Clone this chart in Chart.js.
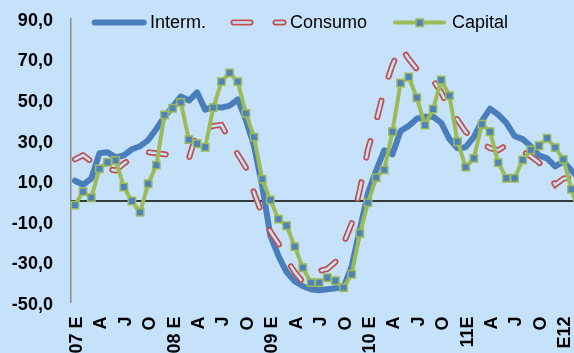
<!DOCTYPE html>
<html>
<head>
<meta charset="utf-8">
<script src="https://cdn.jsdelivr.net/npm/chart.js@4/dist/chart.umd.min.js"></script>
<style>
  html, body { margin: 0; padding: 0; background: #C6E2FA; overflow: hidden; }
  #caja { width: 600px; height: 353px; }
</style>
</head>
<body>
<div id="caja"><canvas id="graficoBienes" width="600" height="353"></canvas></div>
<script>
// meses de enero 2007 a marzo 2012
const anios = ['07', '08', '09', '10', '11', '12'];
const nombresMes = ['ene', 'feb', 'mar', 'abr', 'may', 'jun', 'jul', 'ago', 'sep', 'oct', 'nov', 'dic'];
const meses = [];
anios.forEach(a => nombresMes.forEach(m => meses.push(m + '-' + a)));
meses.length = 63;

// un rotulo cada tres meses
const rotulos = ['07 E', 'A', 'J', 'O', '08 E', 'A', 'J', 'O', '09 E', 'A', 'J', 'O',
                 '10 E', 'A', 'J', 'O', '11E', 'A', 'J', 'O', 'E12'];

const interm = [10.0, 8.0, 11.0, 23.5, 24.0, 21.5, 22.5, 25.5, 27.0, 30.0, 35.5, 41.5,
                46.5, 51.5, 49.5, 53.5, 45.0, 46.5, 46.0, 47.0, 50.0, 40.0, 27.0, 7.5,
                -17.0, -27.0, -35.0, -39.5, -42.0, -43.5, -44.0, -43.5, -43.0, -42.5, -32.0, -14.0,
                4.0, 15.0, 25.0, 23.0, 34.5, 37.0, 40.5, 41.5, 41.5, 38.5, 30.5, 26.0,
                26.5, 31.5, 39.5, 45.5, 42.5, 38.5, 32.0, 30.5, 27.0, 22.5, 21.0, 17.0,
                19.5, 15.0, 11.0];

const consumo = [20.5, 22.5, 19.5, 17.5, 16.0, 15.0, 18.5, 21.0, 23.0, 24.0, 23.5, 23.0,
                 22.5, 21.5, 21.0, 34.0, 35.5, 37.0, 37.5, 30.0, 23.0, 16.5, 4.0, -6.5,
                 -15.0, -21.0, -29.0, -35.0, -40.0, -37.0, -34.5, -33.5, -30.0, -21.0, -11.0, 5.5,
                 25.5, 39.0, 55.0, 67.0, 76.0, 70.0, 65.0, 61.0, 59.5, 53.5, 45.0, 40.0,
                 34.0, 31.0, 28.5, 26.0, 25.0, 27.5, 26.0, 24.5, 22.0, 19.0, 14.5, 8.0,
                 11.0, 12.0, 12.5];

const capital = [-2.0, 4.6, 1.6, 15.8, 19.1, 20.0, 6.9, 0.0, -5.6, 8.5, 17.7, 42.4,
                 45.7, 48.6, 30.2, 28.2, 26.5, 46.0, 58.8, 63.1, 58.8, 43.2, 31.5, 10.8,
                 0.5, -8.9, -12.2, -22.5, -32.9, -40.2, -40.2, -37.8, -39.3, -42.7, -36.1, -15.9,
                 -0.8, 11.5, 15.3, 34.1, 58.1, 61.1, 50.9, 37.4, 45.3, 59.6, 51.9, 29.2,
                 16.7, 21.0, 37.8, 34.1, 18.9, 11.2, 11.2, 20.2, 25.1, 27.2, 30.9, 26.3,
                 20.5, 5.8, -7.0];

const fondo = '#C6E2FA';
const azul = '#4A7EBB';
const rojo = '#C0504D';
const verde = '#9BBB59';
const azulMarca = '#4F81BD';
const trazos = [17, 25];
const fuente = "'Liberation Sans', Arial, sans-serif";

// linea negra del cero, bajo las series
const lineaCero = {
    id: 'lineaCero',
    beforeDatasetsDraw(chart) {
        const { ctx, chartArea, scales } = chart;
        const y = scales.y.getPixelForValue(0);
        ctx.save();
        ctx.strokeStyle = '#000';
        ctx.lineWidth = 1.5;
        ctx.beginPath();
        ctx.moveTo(chartArea.left, y);
        ctx.lineTo(chartArea.right, y);
        ctx.stroke();
        ctx.restore();
    }
};

// leyenda dibujada a mano para imitar el trazo doble de Consumo
const leyenda = {
    id: 'leyenda',
    afterDraw(chart) {
        const ctx = chart.ctx;
        const y = 22.5;
        ctx.save();
        ctx.lineCap = 'round';

        ctx.strokeStyle = azul;
        ctx.lineWidth = 6;
        ctx.beginPath(); ctx.moveTo(94.7, y); ctx.lineTo(143.7, y); ctx.stroke();

        ctx.setLineDash(trazos);
        ctx.strokeStyle = rojo;
        ctx.lineWidth = 6;
        ctx.beginPath(); ctx.moveTo(233.5, y); ctx.lineTo(283.5, y); ctx.stroke();
        ctx.strokeStyle = fondo;
        ctx.lineWidth = 2.5;
        ctx.beginPath(); ctx.moveTo(233.5, y); ctx.lineTo(283.5, y); ctx.stroke();
        ctx.setLineDash([]);

        ctx.strokeStyle = verde;
        ctx.lineWidth = 4;
        ctx.beginPath(); ctx.moveTo(395, y); ctx.lineTo(444, y); ctx.stroke();
        ctx.fillStyle = azulMarca;
        ctx.fillRect(416, y - 3.5, 7.5, 7.5);
        ctx.lineWidth = 1.5;
        ctx.strokeRect(416, y - 3.5, 7.5, 7.5);

        ctx.fillStyle = '#000';
        ctx.font = '18px ' + fuente;
        ctx.textBaseline = 'middle';
        ctx.fillText('Interm.', 150, y + 1);
        ctx.fillText('Consumo', 290, y + 1);
        ctx.fillText('Capital', 452, y + 1);
        ctx.restore();
    }
};

const datosBienes = {
    labels: meses,
    datasets: [
        {
            label: 'Capital',
            data: capital,
            borderColor: verde,
            borderWidth: 4,
            borderJoinStyle: 'round',
            pointStyle: 'rect',
            pointRadius: 5.2,
            pointBackgroundColor: azulMarca,
            pointBorderColor: verde,
            pointBorderWidth: 1.5,
            order: 0
        },
        {
            label: 'Consumo',
            data: consumo,
            borderColor: fondo,
            borderWidth: 2.5,
            borderDash: trazos,
            borderCapStyle: 'round',
            pointRadius: 0,
            order: 1
        },
        {
            label: 'Consumo',
            data: consumo,
            borderColor: rojo,
            borderWidth: 6,
            borderDash: trazos,
            borderCapStyle: 'round',
            pointRadius: 0,
            order: 2
        },
        {
            label: 'Interm.',
            data: interm,
            borderColor: azul,
            borderWidth: 6,
            borderJoinStyle: 'round',
            borderCapStyle: 'round',
            pointRadius: 0,
            order: 3
        }
    ]
};

const configBienes = {
    type: 'line',
    data: datosBienes,
    options: {
        responsive: false,
        animation: false,
        layout: { padding: { top: 18.3, right: 16.3, bottom: 0, left: 0 } },
        plugins: {
            legend: { display: false },
            tooltip: { enabled: false }
        },
        scales: {
            x: {
                type: 'category',
                offset: true,
                grid: { display: false, drawTicks: false },
                border: { display: false },
                ticks: {
                    autoSkip: false,
                    minRotation: 90,
                    maxRotation: 90,
                    padding: 14,
                    labelOffset: 2,
                    color: '#000',
                    font: { family: fuente, size: 18, weight: 'bold' },
                    callback: (v, i) => (i % 3 === 0 ? rotulos[i / 3] : '')
                },
                afterFit: s => {
                    s.height = 50.5;
                    s.paddingLeft = 0;
                    s.paddingRight = 0;
                }
            },
            y: {
                min: -50,
                max: 90,
                grid: { display: false, drawTicks: false },
                border: { display: true, color: '#8C8C8C', width: 1.5 },
                ticks: {
                    stepSize: 20,
                    padding: 18,
                    labelOffset: 2.5,
                    color: '#000',
                    font: { family: fuente, size: 18, weight: 'bold' },
                    callback: v => v.toFixed(1).replace('.', ',')
                },
                afterFit: s => {
                    s.width = 70.9;
                    s.paddingTop = 0;
                    s.paddingBottom = 0;
                }
            }
        }
    },
    plugins: [lineaCero, leyenda]
};

const graficoBienes = new Chart(document.getElementById('graficoBienes'), configBienes);
</script>
</body>
</html>
